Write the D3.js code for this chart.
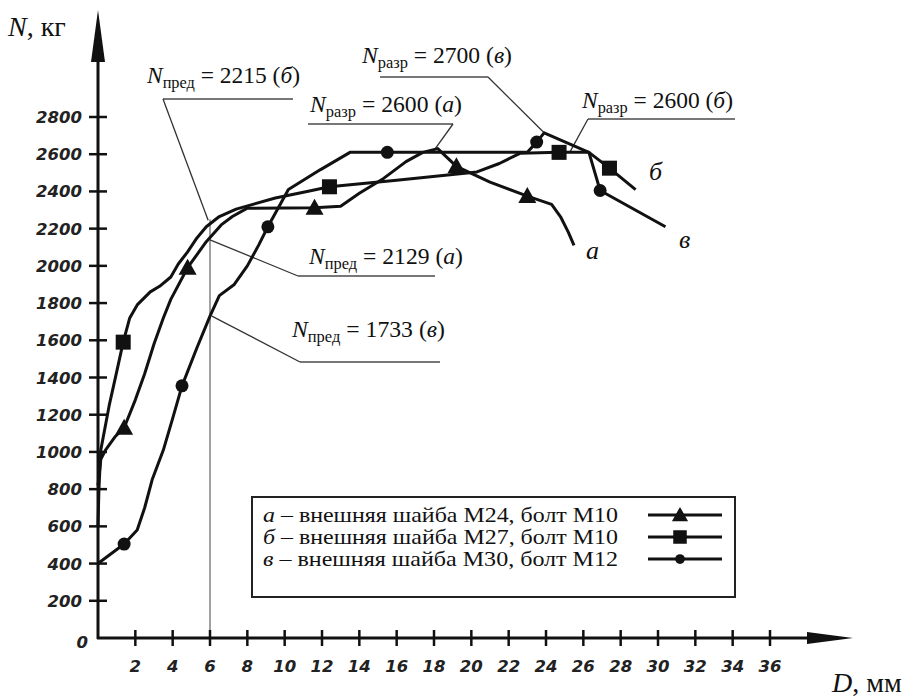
<!DOCTYPE html>
<html><head><meta charset="utf-8">
<script src="https://cdn.jsdelivr.net/npm/d3@7"></script>
<style>body{margin:0;background:#fff}svg{display:block}</style>
</head><body>
<svg id="c" width="905" height="698"></svg>
<script>
// ---- data ----
const xTicks = [2,4,6,8,10,12,14,16,18,20,22,24,26,28,30,32,34,36];
const yTicks = [200,400,600,800,1000,1200,1400,1600,1800,2000,2200,2400,2600,2800];

// curve а (triangles)
const aD = [0,0.15,0.4,0.9,1.4,2.0,2.5,3.0,3.5,3.9,4.8,5.8,6.6,7.2,8.0,11.6,13.0,14.0,15.3,16.5,17.4,18.2,19.2,21.0,23.0,24.3,24.8,25.2,25.5];
const aN = [820,960,1010,1080,1130,1280,1420,1580,1720,1820,1990,2130,2220,2265,2310,2312,2320,2390,2470,2560,2610,2630,2535,2450,2375,2330,2260,2180,2110];
const aMark = [4,10,15,22,24];

// curve б (squares)
const bD = [0,0.05,0.15,0.6,1.0,1.35,1.7,2.1,2.8,3.3,3.9,4.3,4.8,5.3,5.8,6.5,7.4,9.5,11.2,12.4,16.0,20.3,21.5,22.6,24.7,26.3,27.4,28.8];
const bN = [600,800,1010,1250,1430,1590,1720,1790,1860,1890,1940,2010,2075,2150,2210,2265,2305,2365,2400,2425,2460,2505,2550,2605,2610,2610,2525,2410];
const bMark = [5,19,24,26];

// curve в (circles)
const vD = [0,1.4,2.1,2.5,2.9,3.5,4.0,4.5,5.3,6.0,6.5,7.3,8.0,8.6,9.1,10.2,11.9,13.5,15.5,23.0,23.5,23.9,26.3,26.9,30.4];
const vN = [400,505,580,700,850,1010,1180,1355,1560,1730,1840,1900,2000,2110,2210,2410,2516,2610,2610,2610,2665,2715,2610,2405,2210];
const vMark = [1,7,14,18,20,23];

const seriesNames = ["а","б","в"];
const legendTexts = ["внешняя шайба М24, болт М10","внешняя шайба М27, болт М10","внешняя шайба М30, болт М12"];

// annotations: kind, value, series, target (D, N)
const annKind = ["пред","пред","пред","разр","разр","разр"];
const annValue = [2215,2129,1733,2600,2700,2600];
const annSeries = ["б","а","в","а","в","б"];
const annTargetD = [5.9,6.0,6.1,18.0,23.9,25.3];
const annTargetN = [2245,2140,1730,2620,2715,2615];
const vLineD = 6;

// ---- layout ----
const svg = d3.select("#c");
const x = d3.scaleLinear().domain([0,36]).range([98,770]);
const y = d3.scaleLinear().domain([0,2800]).range([638,117]);
const x0 = x(0), y0 = y(0);
const ink = "#111";
const SERIF = "Liberation Serif";
const SANS = "DejaVu Sans";

// annotation layout (text x, baseline, width, underline left, right, underline y)
const annLayout = [
  {tx:147, ty:83,  w:153, ux1:163, ux2:293, uy:99,  from:"l"},
  {tx:309, ty:264, w:154, ux1:298, ux2:435, uy:276, from:"l"},
  {tx:292, ty:337, w:153, ux1:300, ux2:440, uy:362, from:"l"},
  {tx:310, ty:112, w:152, ux1:308, ux2:453, uy:124, from:"r"},
  {tx:362, ty:63,  w:150, ux1:380, ux2:488, uy:77,  from:"r"},
  {tx:582, ty:108, w:151, ux1:588, ux2:735, uy:119, from:"l"}
];

// vertical line at D=6
svg.append("line").attr("x1",x(vLineD)).attr("x2",x(vLineD))
  .attr("y1",y(0)).attr("y2",y(2250)).attr("stroke","#444").attr("stroke-width",1);

// annotations
annKind.forEach((k,i)=>{
  const L = annLayout[i];
  svg.append("line").attr("x1",L.ux1).attr("x2",L.ux2).attr("y1",L.uy).attr("y2",L.uy)
    .attr("stroke","#777").attr("stroke-width",2.2);
  const sx = L.from==="l" ? L.ux1 : L.ux2;
  svg.append("line").attr("x1",sx).attr("y1",L.uy)
    .attr("x2",x(annTargetD[i])).attr("y2",y(annTargetN[i]))
    .attr("stroke","#333").attr("stroke-width",1.3);
  const t = svg.append("text").attr("x",L.tx).attr("y",L.ty)
    .attr("font-family",SERIF).attr("font-size",23).attr("fill",ink)
    .attr("textLength",L.w).attr("lengthAdjust","spacingAndGlyphs");
  t.append("tspan").attr("font-style","italic").text("N");
  t.append("tspan").attr("font-size",16).attr("dy",5).text(k);
  t.append("tspan").attr("dy",-5).text(" = " + annValue[i] + " (");
  t.append("tspan").attr("font-style","italic").text(annSeries[i]);
  t.append("tspan").text(")");
});

// axes
svg.append("line").attr("x1",x0).attr("x2",x0).attr("y1",y0+1).attr("y2",40).attr("stroke",ink).attr("stroke-width",3);
svg.append("path").attr("d",`M${x0},10 L${x0-7},62 L${x0+7},62 Z`).attr("fill",ink);
svg.append("line").attr("x1",x0-1).attr("x2",830).attr("y1",y0).attr("y2",y0).attr("stroke",ink).attr("stroke-width",3);
svg.append("path").attr("d",`M853,${y0} L807,${y0-6} L807,${y0+6} Z`).attr("fill",ink);

yTicks.forEach(v=>{
  svg.append("line").attr("x1",x0-9).attr("x2",x0+9).attr("y1",y(v)).attr("y2",y(v)).attr("stroke",ink).attr("stroke-width",2.5);
  svg.append("text").attr("x",82).attr("y",y(v)+6).attr("text-anchor","end")
    .attr("font-family",SANS).attr("font-weight","bold").attr("font-style","italic")
    .attr("font-size",16.5).attr("fill","#222").text(v);
});
svg.append("text").attr("x",88).attr("y",y0+10).attr("text-anchor","end")
  .attr("font-family",SANS).attr("font-weight","bold").attr("font-style","italic")
  .attr("font-size",16.5).attr("fill","#222").text("0");
xTicks.forEach(v=>{
  svg.append("line").attr("x1",x(v)).attr("x2",x(v)).attr("y1",y0-8).attr("y2",y0+8).attr("stroke",ink).attr("stroke-width",2.5);
  svg.append("text").attr("x",x(v)).attr("y",y0+34).attr("text-anchor","middle")
    .attr("font-family",SANS).attr("font-weight","bold").attr("font-style","italic")
    .attr("font-size",16.5).attr("fill","#222").text(v);
});

// axis titles
const tN = svg.append("text").attr("x",8).attr("y",36).attr("font-family",SERIF).attr("font-size",28).attr("fill",ink);
tN.append("tspan").attr("font-style","italic").text("N");
tN.append("tspan").text(", кг");
const tD = svg.append("text").attr("x",832).attr("y",692).attr("font-family",SERIF).attr("font-size",28).attr("fill",ink);
tD.append("tspan").attr("font-style","italic").text("D");
tD.append("tspan").text(", мм");

// curves
const line = d3.line().x(d=>x(d[0])).y(d=>y(d[1])).curve(d3.curveLinear);
const series = [
  {D:aD,N:aN,m:aMark,sym:"tri"},
  {D:bD,N:bN,m:bMark,sym:"sq"},
  {D:vD,N:vN,m:vMark,sym:"circ"}
];
function marker(g,sym,cx,cy,s){
  if(sym==="tri") g.append("path").attr("d",`M${cx},${cy-9*s} L${cx+9*s},${cy+7*s} L${cx-9*s},${cy+7*s} Z`).attr("fill",ink);
  else if(sym==="sq") g.append("rect").attr("x",cx-7.5*s).attr("y",cy-7.5*s).attr("width",15*s).attr("height",15*s).attr("fill",ink);
  else g.append("circle").attr("cx",cx).attr("cy",cy).attr("r",6.5*s).attr("fill",ink);
}
series.forEach(s=>{
  const pts = s.D.map((d,i)=>[d,s.N[i]]);
  svg.append("path").datum(pts).attr("d",line).attr("fill","none").attr("stroke",ink)
    .attr("stroke-width",3).attr("stroke-linejoin","round");
  s.m.forEach(i=>marker(svg,s.sym,x(s.D[i]),y(s.N[i]),1));
});

// curve labels
const curveLabelPos = [[586,259],[649,180],[679,248]];
seriesNames.forEach((n,i)=>{
  svg.append("text").attr("x",curveLabelPos[i][0]).attr("y",curveLabelPos[i][1])
    .attr("font-family",SERIF).attr("font-style","italic").attr("font-size",26).attr("fill",ink).text(n);
});

// legend
svg.append("rect").attr("x",252).attr("y",497).attr("width",483).attr("height",100)
  .attr("fill","#fff").attr("stroke","#222").attr("stroke-width",2);
const legY = [522,544,566];
const syms = ["tri","sq","circ"];
seriesNames.forEach((n,i)=>{
  const t = svg.append("text").attr("x",263).attr("y",legY[i]).attr("font-family",SERIF).attr("font-size",21).attr("fill",ink)
    .attr("textLength",355).attr("lengthAdjust","spacingAndGlyphs");
  t.append("tspan").attr("font-style","italic").text(n);
  t.append("tspan").text(" – " + legendTexts[i]);
  const cy = legY[i]-7;
  svg.append("line").attr("x1",648).attr("x2",722).attr("y1",cy).attr("y2",cy).attr("stroke",ink).attr("stroke-width",3);
  marker(svg,syms[i],680,cy,i===2?0.75:0.9);
});
</script>
</body></html>
